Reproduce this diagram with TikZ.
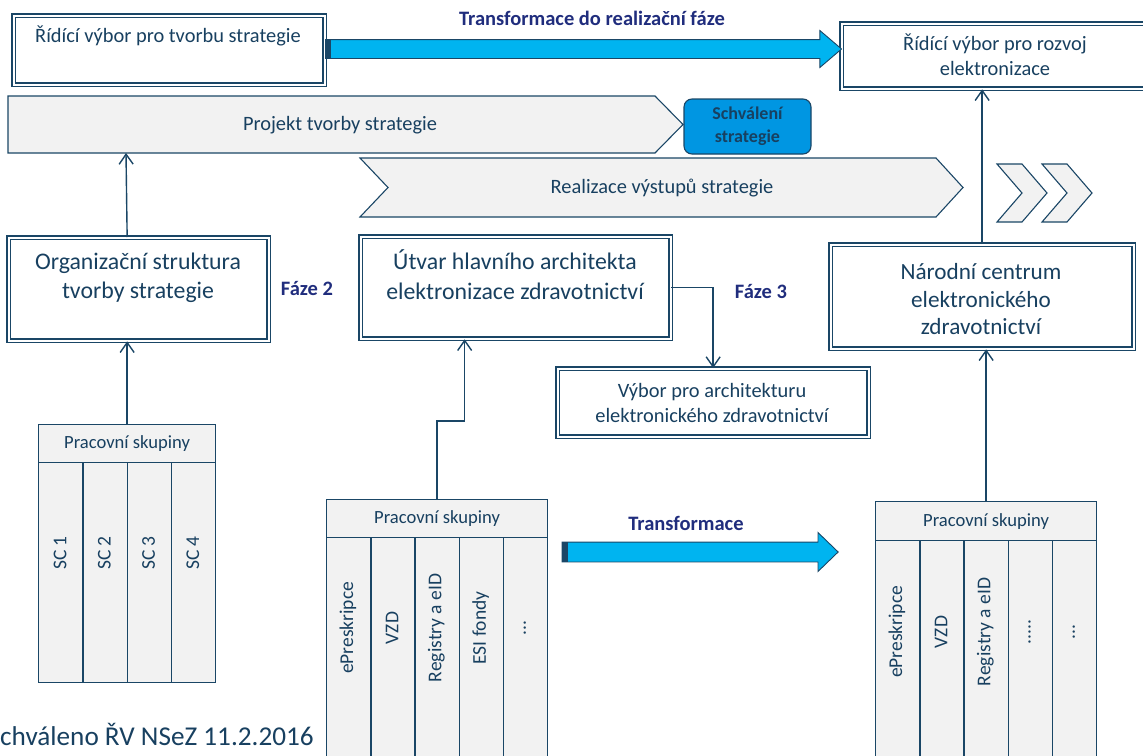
\documentclass[tikz,border=0pt]{standalone}
\usepackage{fontspec}
\setmainfont{Carlito}
\usepackage{graphicx}
\usetikzlibrary{arrows.meta,shapes.arrows,positioning}

\definecolor{linec}{RGB}{26,70,102}
\definecolor{txtc}{RGB}{24,64,96}
\definecolor{navyc}{RGB}{32,45,125}
\definecolor{paleg}{RGB}{242,242,242}
\definecolor{cyanarr}{RGB}{0,180,240}
\definecolor{schvalc}{RGB}{0,150,226}

\newcommand\threedots{...}
\newcommand\fivedots{.....}

\tikzset{
  fsmall/.style={font=\fontsize{18.6}{22}\selectfont},
  fmid/.style={font=\fontsize{20.4}{25}\selectfont},
  flarge/.style={font=\fontsize{23.8}{29}\selectfont},
  dbox/.style={draw=linec, double=white, double distance=1.8pt, line width=1.3pt,
    fill=white, inner sep=0pt, anchor=north west},
  boxtext/.style={text=txtc, align=center, inner sep=0pt},
  chev/.style={draw=linec, line width=1.1pt, fill=paleg},
  fat/.style={single arrow, draw=linec, line width=0.9pt, fill=cyanarr,
    inner xsep=0pt},
  conn/.style={draw=linec, line width=1.4pt, -{Straight Barb[length=10pt,width=14pt]}},
  cell/.style={draw=linec, line width=1.3pt, fill=paleg, inner sep=0pt, anchor=north west},
  phase/.style={text=navyc, inner sep=0pt, font=\bfseries\fontsize{20.5}{24}\selectfont},
  collab/.style={rotate=90, text=txtc, inner sep=0pt, font=\fontsize{19.5}{22}\selectfont},
}

\begin{document}
\begin{tikzpicture}[x=1pt, y=-1pt]
\useasboundingbox (0,0) rectangle (1143,755);
\clip (0,0) rectangle (1143,755);

% committees on top
\node[dbox, minimum width=311pt, minimum height=69pt] (rvts) at (13,15) {};
\node[boxtext, fmid] (rvts-t) at (168,36) {Řídící výbor pro tvorbu strategie};
\node[dbox, minimum width=320pt, minimum height=65pt] (rvre) at (841,23) {};
\node[boxtext, fmid] (rvre-t) at (995,55) {Řídící výbor pro rozvoj\\elektronizace};

% transformation arrow
\node[fat, inner ysep=9pt, minimum height=516pt, minimum width=36pt, single arrow head extend=9pt,
  single arrow tip angle=81] (trtop) at (578,49) {};
\fill[linec] (trtop.before tail) rectangle ([xshift=6pt]trtop.after tail);
\node[phase] (trtop-l) at (592,18) {Transformace do realizační fáze};

% phases of the strategy
\draw[chev] (8,96) -- (655,96) -- (683,124.5) -- (655,153) -- (8,153) -- cycle;
\node[boxtext, fmid] (projekt) at (340,125) {Projekt tvorby strategie};
\coordinate (projekt-b) at (126,153);
\node[draw=linec, line width=1.1pt, fill=schvalc, rounded corners=8pt, minimum width=127pt,
  minimum height=55pt, text=txtc, align=center,
  font=\bfseries\fontsize{18}{23}\selectfont] (schvaleni) at (747.5,126.5) {Schválení\\strategie};
\draw[chev] (360,158) -- (936,158) -- (963,187.5) -- (936,217) -- (360,217) -- (388,187.5) -- cycle;
\node[boxtext, fmid] (realizace) at (662,188) {Realizace výstupů strategie};
\foreach \dx in {0,45} {
  \draw[chev] (997+\dx,164) -- (1022+\dx,164) -- (1047+\dx,193) -- (1022+\dx,222)
    -- (997+\dx,222) -- (1022+\dx,193) -- cycle;
}

% organisation boxes
\node[dbox, minimum width=260pt, minimum height=103pt] (org) at (8,237) {};
\node[boxtext, flarge] (org-t) at (138,277.5) {Organizační struktura\\tvorby strategie};
\node[phase] (faze2) at (307,288) {Fáze 2};
\node[dbox, minimum width=310pt, minimum height=102pt] (utvar) at (360,236) {};
\node[boxtext, flarge, font=\fontsize{23.8}{30}\selectfont] (utvar-t) at (515,275)
  {Útvar hlavního architekta\\elektronizace zdravotnictví};
\node[phase] (faze3) at (761,291) {Fáze 3};
\node[dbox, minimum width=311pt, minimum height=68pt] (vybor) at (557,368) {};
\node[boxtext, fmid] (vybor-t) at (712,402.5) {Výbor pro architekturu\\elektronického zdravotnictví};
\node[dbox, minimum width=303pt, minimum height=104pt] (narodni) at (830,244) {};
\node[boxtext, font=\fontsize{23.2}{27.5}\selectfont] (narodni-t) at (981,299.5)
  {Národní centrum\\elektronického\\zdravotnictví};

% working groups
\node[cell, minimum width=177pt, minimum height=38pt, fsmall, text=txtc] (ps1) at (38,424) {Pracovní skupiny};
\foreach \lab [count=\i] in {SC 1,SC 2,SC 3,SC 4} {
  \node[cell, minimum width=44.25pt, minimum height=220pt] (ps1-\i) at ({38+(\i-1)*44.25},462) {};
  \node[collab] (ps1-l\i) at ({60+(\i-1)*44.25},553) {\lab};
}
\node[cell, minimum width=221pt, minimum height=38pt, fsmall, text=txtc] (ps2) at (326,499) {Pracovní skupiny};
\foreach \lab [count=\i] in {ePreskripce,VZD,Registry a eID,ESI fondy,\threedots} {
  \node[cell, minimum width=44.2pt, minimum height=240pt] (ps2-\i) at ({326+(\i-1)*44.2},537) {};
  \node[collab] (ps2-l\i) at ({348+(\i-1)*44.2},628) {\lab};
}
\node[cell, minimum width=221pt, minimum height=39pt, fsmall, text=txtc] (ps3) at (875,501) {Pracovní skupiny};
\foreach \lab [count=\i] in {ePreskripce,VZD,Registry a eID,\fivedots,\threedots} {
  \node[cell, minimum width=44.2pt, minimum height=240pt] (ps3-\i) at ({875+(\i-1)*44.2},540) {};
  \node[collab] (ps3-l\i) at ({897+(\i-1)*44.2},632) {\lab};
}

% second transformation arrow
\node[fat, inner ysep=9.5pt, minimum height=276pt, minimum width=38pt, single arrow head extend=9.5pt,
  single arrow tip angle=88] (trbot) at (695,552) {};
\fill[linec] (trbot.before tail) rectangle ([xshift=6pt]trbot.after tail);
\node[phase] (trbot-l) at (686,523) {Transformace};

% connectors
\draw[conn] (ps1.north) -- (ps1.north |- org.south);
\draw[conn] (ps1.north |- org.north) -- (projekt-b);
\draw[conn] (ps2.north) -- ++(0,-78) -| ([xshift=-51pt]utvar.south);
\draw[conn] (utvar.east) -| (vybor.north);
\draw[conn] (ps3.north) -- (ps3.north |- narodni.south);
\draw[conn] (narodni.north) -- (narodni.north |- rvre.south);

\node[anchor=base west, inner sep=0pt, text=txtc, font=\fontsize{27.2}{30}\selectfont]
  (schvaleno) at (0,745) {chváleno ŘV NSeZ 11.2.2016};
\end{tikzpicture}
\end{document}
